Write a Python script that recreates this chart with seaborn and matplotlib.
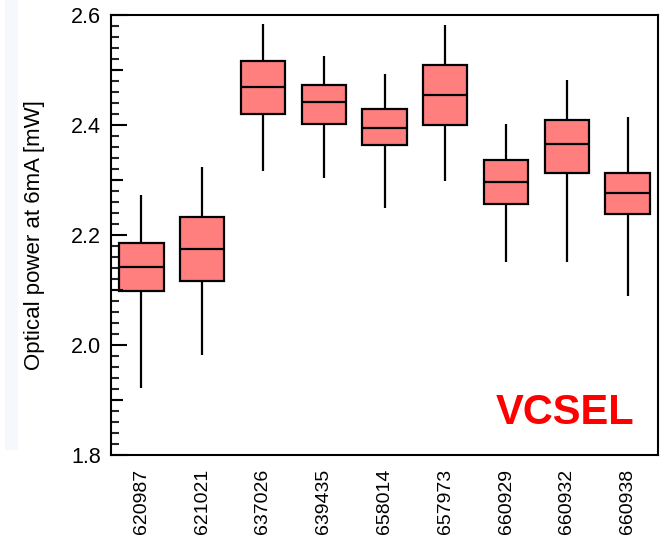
import numpy as np
import pandas as pd
import matplotlib
matplotlib.use("Agg")
import matplotlib.pyplot as plt
from matplotlib.patches import Rectangle
from matplotlib.ticker import MultipleLocator, FixedLocator
import seaborn as sns

# ---- data ----
categories = ["620987", "621021", "637026", "639435", "658014",
              "657973", "660929", "660932", "660938"]
whisker_low = [1.922, 1.982, 2.316, 2.303, 2.250, 2.299, 2.151, 2.151, 2.090]
q1          = [2.098, 2.116, 2.420, 2.402, 2.363, 2.400, 2.257, 2.313, 2.239]
median      = [2.142, 2.175, 2.469, 2.442, 2.395, 2.454, 2.297, 2.365, 2.276]
q3          = [2.185, 2.233, 2.516, 2.473, 2.429, 2.509, 2.336, 2.409, 2.313]
whisker_hi  = [2.273, 2.323, 2.583, 2.525, 2.493, 2.582, 2.402, 2.481, 2.415]
y_major_ticks = [1.8, 2.0, 2.2, 2.4, 2.6]
y_mid_ticks = [1.9, 2.1, 2.3, 2.5]

# five-number summaries -> seaborn computes identical box stats
rows = []
for c, a, b, m, d, e in zip(categories, whisker_low, q1, median, q3, whisker_hi):
    for v in (a, b, m, d, e):
        rows.append({"lot": c, "power": v})
df = pd.DataFrame(rows)

sns.set_theme(style="white")
plt.rcParams["font.family"] = ["Liberation Sans", "DejaVu Sans"]

fig = plt.figure(figsize=(6.64, 5.41), dpi=100)
fig.patch.set_facecolor("white")
# very faint light-blue strip at the far left of the reference image
fig.patches.append(Rectangle((5 / 664, 1 - 450 / 541), 13 / 664, 450 / 541,
                             transform=fig.transFigure, facecolor="#f5f8fd",
                             edgecolor="none", zorder=0))

ax = fig.add_axes([111 / 664, 86 / 541, 547 / 664, 440 / 541])

lw = 1.6
sns.boxplot(data=df, x="lot", y="power", order=categories, ax=ax,
            whis=(0, 100), width=0.73, color="#ff7f7f", saturation=1,
            showcaps=False, showfliers=False,
            boxprops=dict(edgecolor="black", linewidth=lw, facecolor="#ff7f7f"),
            whiskerprops=dict(color="black", linewidth=lw),
            medianprops=dict(color="black", linewidth=lw),
            capprops=dict(color="black", linewidth=lw))

ax.set_ylim(1.8, 2.6)
ax.set_xlim(-0.5, len(categories) - 0.5)
ax.yaxis.set_major_locator(FixedLocator(y_major_ticks))
ax.yaxis.set_minor_locator(MultipleLocator(0.02))
ax.set_yticklabels([f"{v:.1f}" for v in y_major_ticks])
ax.tick_params(axis="y", which="major", direction="in", length=11.5, width=1.5,
               labelsize=15.5, pad=7, colors="black", left=True, right=False)
ax.tick_params(axis="y", which="minor", direction="in", length=5.8, width=1.5,
               left=True, right=False)
ax.tick_params(axis="x", length=0, pad=10, labelsize=14, labelrotation=90,
               colors="black")
for lab in ax.get_xticklabels():
    lab.set_va("top")
    lab.set_fontsize(14)

ax.set_xlabel("")
ax.set_ylabel("Optical power at 6mA [mW]", fontsize=16, color="black")
ax.yaxis.set_label_coords(-0.12, 0.5)

for s in ax.spines.values():
    s.set_visible(True)
    s.set_color("black")
    s.set_linewidth(1.5)

# medium-length ticks at the odd tenths
ax2 = ax.twinx()
ax2.set_ylim(ax.get_ylim())
ax2.yaxis.tick_left()
ax2.yaxis.set_major_locator(FixedLocator(y_mid_ticks))
ax2.yaxis.set_minor_locator(FixedLocator([]))
ax2.tick_params(axis="y", which="major", direction="in", length=8.6, width=1.5,
                labelleft=False, labelright=False, left=True, right=False,
                colors="black")
for s in ax2.spines.values():
    s.set_visible(False)
ax2.grid(False)

ax.text(0.956, 0.096, "VCSEL", transform=ax.transAxes, ha="right", va="center",
        fontsize=30, fontweight="bold", color="#ff0000")

fig.savefig("out.png", dpi=100, facecolor="white")
